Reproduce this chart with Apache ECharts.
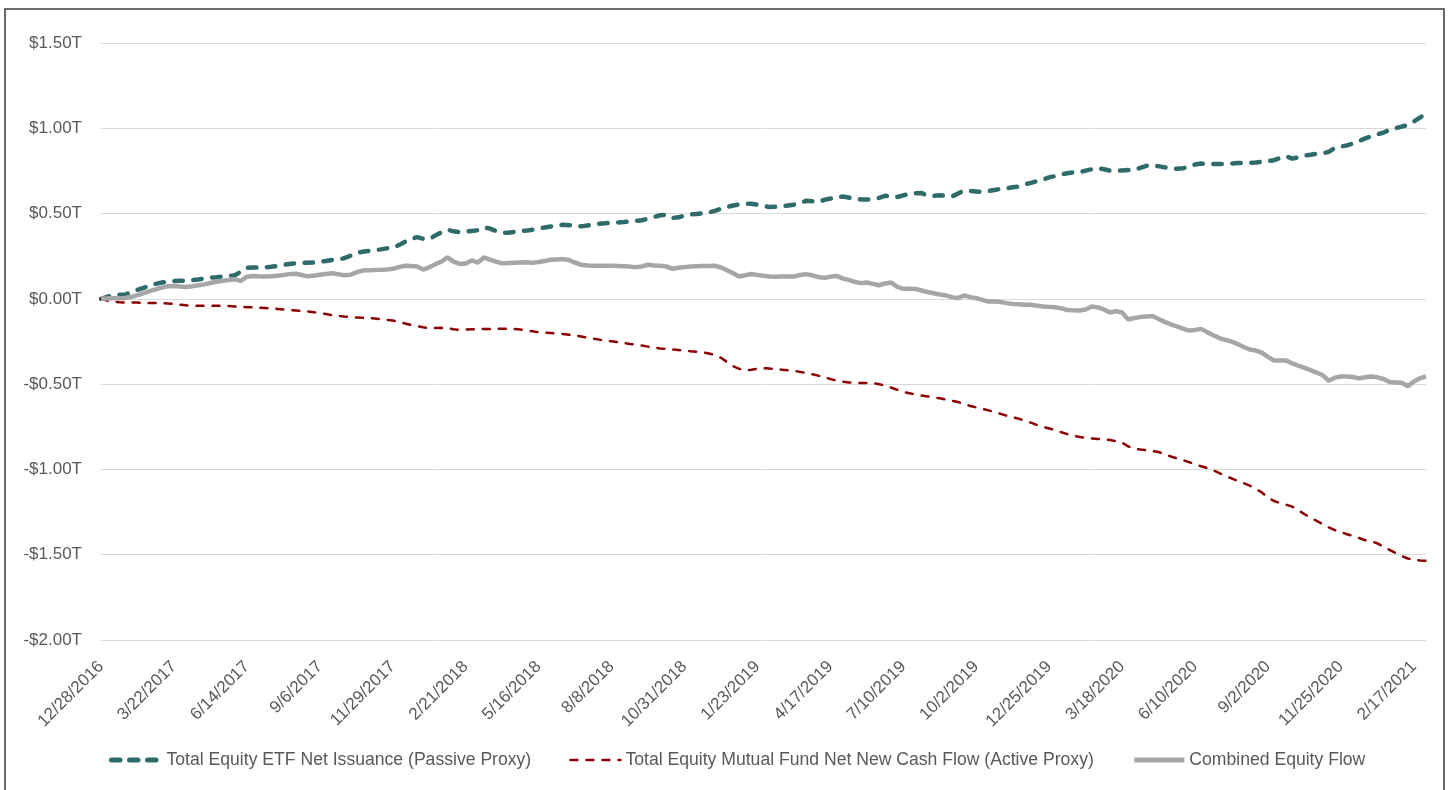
<!DOCTYPE html>
<html>
<head>
<meta charset="utf-8">
<script src="https://cdn.jsdelivr.net/npm/echarts@6/dist/echarts.min.js"></script>
<style>
  html, body { margin: 0; padding: 0; background: #ffffff; }
  #chart { width: 1450px; height: 790px; }
</style>
</head>
<body>
<div id="chart"></div>
<script>
// Weekly categories: 12/28/2016 ... 3/3/2021 (219 weeks)
const startDate = [2016, 12, 28];
const weekCount = 219;
const dates = [];
for (let k = 0; k < weekCount; k++) {
  const d = new Date(Date.UTC(startDate[0], startDate[1] - 1, startDate[2] + 7 * k));
  dates.push((d.getUTCMonth() + 1) + '/' + d.getUTCDate() + '/' + d.getUTCFullYear());
}

const seriesNames = [
  'Total Equity ETF Net Issuance (Passive Proxy)',
  'Total Equity Mutual Fund Net New Cash Flow (Active Proxy)',
  'Combined Equity Flow'
];

// Cumulative flows, trillions of USD
const etfFlow = [
  0.000, 0.012, 0.022, 0.024, 0.025, 0.040, 0.053, 0.065, 0.078, 0.088, 0.096, 0.100,
  0.104, 0.106, 0.107, 0.110, 0.114, 0.119, 0.124, 0.127, 0.131, 0.135, 0.138, 0.160,
  0.182, 0.184, 0.183, 0.185, 0.188, 0.193, 0.199, 0.204, 0.209, 0.210, 0.212, 0.213,
  0.217, 0.222, 0.228, 0.231, 0.238, 0.252, 0.270, 0.276, 0.281, 0.285, 0.290, 0.296,
  0.300, 0.315, 0.334, 0.350, 0.362, 0.352, 0.350, 0.372, 0.390, 0.405, 0.396, 0.391,
  0.394, 0.398, 0.402, 0.418, 0.412, 0.398, 0.386, 0.388, 0.392, 0.397, 0.400, 0.405,
  0.413, 0.418, 0.424, 0.430, 0.434, 0.432, 0.428, 0.425, 0.430, 0.437, 0.441, 0.443,
  0.446, 0.448, 0.450, 0.453, 0.458, 0.461, 0.470, 0.480, 0.490, 0.493, 0.474, 0.478,
  0.488, 0.495, 0.498, 0.502, 0.507, 0.516, 0.528, 0.538, 0.547, 0.554, 0.557, 0.557,
  0.552, 0.545, 0.538, 0.540, 0.543, 0.547, 0.552, 0.562, 0.575, 0.572, 0.568, 0.580,
  0.588, 0.596, 0.600, 0.594, 0.585, 0.583, 0.582, 0.584, 0.592, 0.604, 0.600, 0.597,
  0.607, 0.616, 0.619, 0.620, 0.606, 0.604, 0.607, 0.604, 0.600, 0.618, 0.634, 0.633,
  0.630, 0.627, 0.632, 0.638, 0.644, 0.648, 0.654, 0.659, 0.672, 0.680, 0.690, 0.700,
  0.712, 0.720, 0.728, 0.737, 0.741, 0.743, 0.752, 0.760, 0.767, 0.760, 0.752, 0.751,
  0.753, 0.755, 0.757, 0.768, 0.780, 0.783, 0.778, 0.771, 0.766, 0.763, 0.766, 0.773,
  0.788, 0.793, 0.792, 0.791, 0.790, 0.792, 0.794, 0.796, 0.797, 0.798, 0.800, 0.803,
  0.808, 0.813, 0.826, 0.836, 0.822, 0.830, 0.841, 0.845, 0.850, 0.853, 0.862, 0.885,
  0.893, 0.900, 0.911, 0.925, 0.941, 0.953, 0.964, 0.975, 0.990, 1.000, 1.010, 1.019,
  1.040, 1.062, 1.089
];

const mutualFundFlow = [
  0.000, -0.010, -0.016, -0.020, -0.021, -0.022, -0.022, -0.023, -0.024, -0.024, -0.025, -0.027,
  -0.030, -0.034, -0.038, -0.041, -0.041, -0.041, -0.041, -0.041, -0.041, -0.042, -0.045, -0.047,
  -0.049, -0.050, -0.052, -0.054, -0.056, -0.059, -0.062, -0.065, -0.068, -0.071, -0.074, -0.078,
  -0.083, -0.089, -0.095, -0.100, -0.104, -0.107, -0.109, -0.111, -0.113, -0.115, -0.119, -0.123,
  -0.127, -0.135, -0.144, -0.153, -0.160, -0.167, -0.172, -0.171, -0.170, -0.172, -0.178, -0.182,
  -0.180, -0.178, -0.178, -0.177, -0.177, -0.176, -0.175, -0.175, -0.177, -0.180, -0.184, -0.190,
  -0.196, -0.198, -0.200, -0.203, -0.206, -0.210, -0.215, -0.221, -0.227, -0.233, -0.239, -0.245,
  -0.249, -0.254, -0.259, -0.264, -0.268, -0.274, -0.280, -0.286, -0.291, -0.294, -0.297, -0.300,
  -0.303, -0.307, -0.310, -0.313, -0.320, -0.330, -0.345, -0.370, -0.395, -0.410, -0.420, -0.416,
  -0.410, -0.407, -0.409, -0.412, -0.415, -0.418, -0.422, -0.428, -0.435, -0.442, -0.450, -0.460,
  -0.470, -0.479, -0.485, -0.490, -0.492, -0.493, -0.493, -0.494, -0.500, -0.508, -0.520, -0.533,
  -0.546, -0.553, -0.560, -0.567, -0.572, -0.578, -0.583, -0.590, -0.597, -0.605, -0.615, -0.628,
  -0.636, -0.645, -0.654, -0.663, -0.674, -0.685, -0.694, -0.703, -0.714, -0.726, -0.740, -0.750,
  -0.760, -0.770, -0.782, -0.793, -0.803, -0.810, -0.815, -0.818, -0.821, -0.824, -0.828, -0.834,
  -0.843, -0.865, -0.878, -0.883, -0.887, -0.892, -0.898, -0.910, -0.924, -0.935, -0.945, -0.957,
  -0.970, -0.981, -0.992, -1.005, -1.022, -1.039, -1.052, -1.067, -1.080, -1.095, -1.115, -1.135,
  -1.165, -1.185, -1.197, -1.207, -1.218, -1.240, -1.262, -1.283, -1.302, -1.320, -1.340, -1.356,
  -1.368, -1.380, -1.390, -1.402, -1.415, -1.422, -1.433, -1.452, -1.472, -1.490, -1.508, -1.522,
  -1.530, -1.534, -1.536
];

const combinedFlow = [
  0.000, 0.002, 0.004, 0.004, 0.005, 0.012, 0.022, 0.033, 0.045, 0.056, 0.066, 0.074,
  0.076, 0.072, 0.069, 0.074, 0.080, 0.085, 0.093, 0.100, 0.106, 0.111, 0.115, 0.105,
  0.130, 0.134, 0.132, 0.131, 0.133, 0.136, 0.140, 0.145, 0.147, 0.140, 0.132, 0.135,
  0.141, 0.146, 0.150, 0.145, 0.138, 0.141, 0.155, 0.166, 0.167, 0.169, 0.170, 0.172,
  0.176, 0.186, 0.194, 0.192, 0.190, 0.172, 0.185, 0.203, 0.218, 0.243, 0.218, 0.205,
  0.207, 0.225, 0.213, 0.243, 0.230, 0.218, 0.208, 0.210, 0.212, 0.213, 0.214, 0.211,
  0.216, 0.222, 0.229, 0.231, 0.233, 0.228, 0.212, 0.200, 0.196, 0.194, 0.194, 0.194,
  0.194, 0.193, 0.191, 0.189, 0.186, 0.190, 0.200, 0.196, 0.194, 0.190, 0.176, 0.182,
  0.186, 0.190, 0.191, 0.192, 0.193, 0.194, 0.184, 0.168, 0.150, 0.131, 0.138, 0.146,
  0.140, 0.136, 0.131, 0.130, 0.131, 0.131, 0.131, 0.140, 0.145, 0.138, 0.128, 0.123,
  0.130, 0.135, 0.120, 0.111, 0.100, 0.092, 0.096, 0.088, 0.080, 0.090, 0.096, 0.070,
  0.059, 0.060, 0.058, 0.049, 0.040, 0.033, 0.026, 0.020, 0.010, 0.004, 0.020, 0.010,
  0.004, -0.006, -0.016, -0.016, -0.018, -0.025, -0.030, -0.032, -0.034, -0.035, -0.040, -0.045,
  -0.047, -0.049, -0.056, -0.065, -0.067, -0.068, -0.062, -0.045, -0.050, -0.062, -0.080, -0.072,
  -0.080, -0.121, -0.112, -0.107, -0.103, -0.101, -0.118, -0.135, -0.149, -0.162, -0.174, -0.186,
  -0.183, -0.176, -0.195, -0.213, -0.230, -0.240, -0.250, -0.265, -0.282, -0.297, -0.303, -0.315,
  -0.340, -0.362, -0.362, -0.362, -0.378, -0.392, -0.405, -0.418, -0.432, -0.447, -0.480, -0.462,
  -0.455, -0.455, -0.458, -0.466, -0.460, -0.455, -0.460, -0.470, -0.488, -0.490, -0.492, -0.512,
  -0.485, -0.466, -0.455
];

const yMin = -2.0, yMax = 1.5, yStep = 0.5;
const textColor = '#595959';
const fontFam = 'Arial, "Liberation Sans", sans-serif';
const colors = ['#2f6b6a', '#8b0000', '#a6a6a6'];

const chart = echarts.init(document.getElementById('chart'), null, { renderer: 'canvas' });

function fmtT(v) {
  const s = Math.abs(v).toFixed(2);
  return (v < 0 ? '-$' : '$') + s + 'T';
}

chart.setOption({
  backgroundColor: '#ffffff',
  animation: false,
  graphic: [{
    type: 'rect',
    shape: { x: 5, y: 9, width: 1439, height: 800 },
    style: { fill: 'none', stroke: '#3a3a3a', lineWidth: 1.5 },
    silent: true
  }],
  grid: { left: 101, right: 24, top: 43, bottom: 150, containLabel: false },
  legend: {
    data: [
      { name: seriesNames[0], lineStyle: { color: colors[0], width: 5, type: [8.5, 9.5], cap: 'round' } },
      { name: seriesNames[1], lineStyle: { color: colors[1], width: 2.5, type: [7, 9], cap: 'round' } },
      { name: seriesNames[2], lineStyle: { color: colors[2], width: 5, type: 'solid' } }
    ],
    left: 104,
    top: 746,
    itemWidth: 50,
    itemHeight: 16,
    itemGap: 38,
    itemStyle: { opacity: 0 },
    textStyle: { color: textColor, fontSize: 17.6, fontFamily: fontFam }
  },
  xAxis: {
    type: 'category',
    data: dates,
    boundaryGap: false,
    axisLine: { show: false },
    axisTick: { show: false },
    axisLabel: {
      interval: 11,
      rotate: 45,
      margin: 24,
      color: textColor,
      fontSize: 17,
      fontFamily: fontFam
    },
    splitLine: { show: false }
  },
  yAxis: {
    type: 'value',
    min: yMin,
    max: yMax,
    interval: yStep,
    axisLine: { show: false },
    axisTick: { show: false },
    axisLabel: {
      formatter: fmtT,
      margin: 19,
      color: textColor,
      fontSize: 17,
      fontFamily: fontFam
    },
    splitLine: { lineStyle: { color: '#d9d9d9', width: 1 } }
  },
  series: [
    {
      name: seriesNames[0],
      type: 'line',
      data: etfFlow,
      symbol: 'none',
      smooth: false,
      color: colors[0],
      lineStyle: { color: colors[0], width: 4.5, type: [8.5, 10.5], cap: 'round' },
      z: 2
    },
    {
      name: seriesNames[1],
      type: 'line',
      data: mutualFundFlow,
      symbol: 'none',
      smooth: false,
      color: colors[1],
      lineStyle: { color: colors[1], width: 2.5, type: [7, 9], cap: 'round' },
      z: 2
    },
    {
      name: seriesNames[2],
      type: 'line',
      data: combinedFlow,
      symbol: 'none',
      smooth: false,
      color: colors[2],
      lineStyle: { color: colors[2], width: 4.5, type: 'solid' },
      z: 3
    }
  ]
});
</script>
</body>
</html>
